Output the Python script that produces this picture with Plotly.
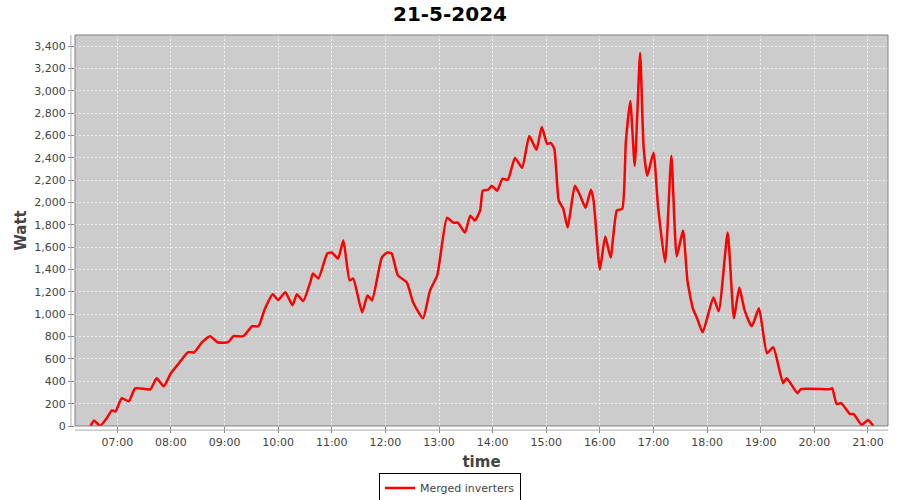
import plotly.graph_objects as go

DATE = "2024-05-21"
TITLE = "21-5-2024"
SERIES_NAME = "Merged inverters"

times = ["06:30", "06:34", "06:38", "06:41", "06:48", "06:54", "06:58", "07:05", "07:13", "07:20",
         "07:37", "07:44", "07:52", "08:00", "08:09", "08:19", "08:26", "08:35", "08:44", "08:52",
         "09:04", "09:10", "09:21", "09:31", "09:38", "09:45", "09:54", "10:00", "10:08", "10:16",
         "10:21", "10:28", "10:36", "10:39", "10:45", "10:55", "11:00", "11:07", "11:13", "11:20",
         "11:24", "11:34", "11:40", "11:45", "11:56", "12:02", "12:07", "12:14", "12:24", "12:31",
         "12:42", "12:50", "12:58", "13:09", "13:16", "13:21", "13:29", "13:35", "13:40", "13:46",
         "13:49", "13:55", "13:59", "14:05", "14:11", "14:17", "14:25", "14:33", "14:41", "14:49",
         "14:55", "15:01", "15:05", "15:09", "15:14", "15:19", "15:24", "15:32", "15:38", "15:44",
         "15:50", "15:53", "16:00", "16:06", "16:12", "16:19", "16:25", "16:29", "16:34", "16:39",
         "16:45", "16:49", "16:53", "17:00", "17:05", "17:13", "17:20", "17:26", "17:33", "17:38",
         "17:44", "17:49", "17:55", "18:07", "18:13", "18:23", "18:30", "18:36", "18:42", "18:50",
         "18:58", "19:07", "19:14", "19:25", "19:29", "19:41", "19:45", "20:18", "20:20", "20:25",
         "20:30", "20:40", "20:44", "20:53", "21:00", "21:06"]

watts = [0, 50, 20, 0, 68, 140, 130, 248, 222, 337,
         328, 427, 355, 472, 562, 660, 660, 750, 804, 750,
         750, 804, 804, 893, 893, 1046, 1180, 1127, 1198, 1082,
         1180, 1118, 1288, 1365, 1320, 1544, 1553, 1499, 1660, 1303,
         1320, 1017, 1169, 1124, 1508, 1553, 1544, 1348, 1285, 1107,
         964, 1214, 1348, 1865, 1820, 1820, 1731, 1883, 1838, 1928,
         2106, 2115, 2150, 2106, 2213, 2204, 2400, 2311, 2597, 2472,
         2677, 2525, 2534, 2481, 2017, 1945, 1776, 2150, 2061, 1954,
         2115, 2017, 1401, 1696, 1508, 1928, 1945, 2534, 2909, 2329,
         3338, 2490, 2240, 2445, 1972, 1464, 2418, 1517, 1749, 1300,
         1053, 960, 839, 1151, 1026, 1731, 964, 1240, 1035, 892,
         1053, 651, 705, 384, 428, 294, 330, 330, 339, 196,
         205, 107, 107, 9, 54, 0]

x_vals = [f"{DATE} {t}" for t in times]

fig = go.Figure()
fig.add_trace(go.Scatter(
    x=x_vals, y=watts, mode="lines", name=SERIES_NAME,
    line=dict(color="#FF0000", width=2.5, shape="spline", smoothing=0.5),
    showlegend=True,
))

tick_font = dict(family="DejaVu Sans", size=11, color="#444444")
title_font = dict(family="DejaVu Sans", size=15, color="#444444")

fig.update_layout(
    width=900, height=500,
    margin=dict(l=75, r=12, t=35, b=74, autoexpand=False),
    paper_bgcolor="white", plot_bgcolor="#CCCCCC",
    title=dict(text=f"<b>{TITLE}</b>", x=0.5, xanchor="center",
               y=0.972, yanchor="middle", yref="container",
               font=dict(family="DejaVu Sans", size=20, color="black")),
    showlegend=True,
    legend=dict(orientation="h", x=0.5, xanchor="center", xref="container",
                y=0.024, yanchor="middle", yref="container",
                bordercolor="black", borderwidth=1, bgcolor="white",
                font=dict(family="DejaVu Sans", size=11, color="#444444"),
                itemwidth=30, tracegroupgap=0),
    xaxis=dict(
        type="date", automargin=False,
        range=[f"{DATE} 06:12:42", f"{DATE} 21:22:24"],
        dtick=3600000, tick0=f"{DATE} 07:00", tickformat="%H:%M",
        showgrid=True, gridcolor="#EEEEEE", griddash="2px,2px", gridwidth=1,
        ticks="outside", ticklen=6, tickcolor="#888888",
        tickfont=tick_font, zeroline=False, showline=False,
        title=dict(text="<b>time</b>", font=title_font, standoff=8),
    ),
    yaxis=dict(
        automargin=False,
        range=[0, 3500], dtick=200, tickformat=",",
        showgrid=True, gridcolor="#EEEEEE", griddash="2px,2px", gridwidth=1,
        ticks="outside", ticklen=6, tickcolor="#888888",
        tickfont=tick_font, zeroline=False, showline=False,
        title=dict(text="<b>Watt</b>", font=title_font, standoff=4),
    ),
    shapes=[
        dict(type="rect", xref="paper", yref="paper", x0=0, y0=0, x1=1, y1=1,
             line=dict(color="#808080", width=1), fillcolor="rgba(0,0,0,0)", layer="above"),
        dict(type="line", xref="paper", yref="paper", x0=-0.005, x1=-0.005, y0=0, y1=1,
             line=dict(color="#AAAAAA", width=1)),
        dict(type="line", xref="paper", yref="paper", x0=0, x1=1, y0=-0.0105, y1=-0.0105,
             line=dict(color="#AAAAAA", width=1)),
    ],
)

fig.write_html("out.html", config={"displayModeBar": False},
               post_script="document.body.style.margin='0';document.body.style.overflow='hidden';")
